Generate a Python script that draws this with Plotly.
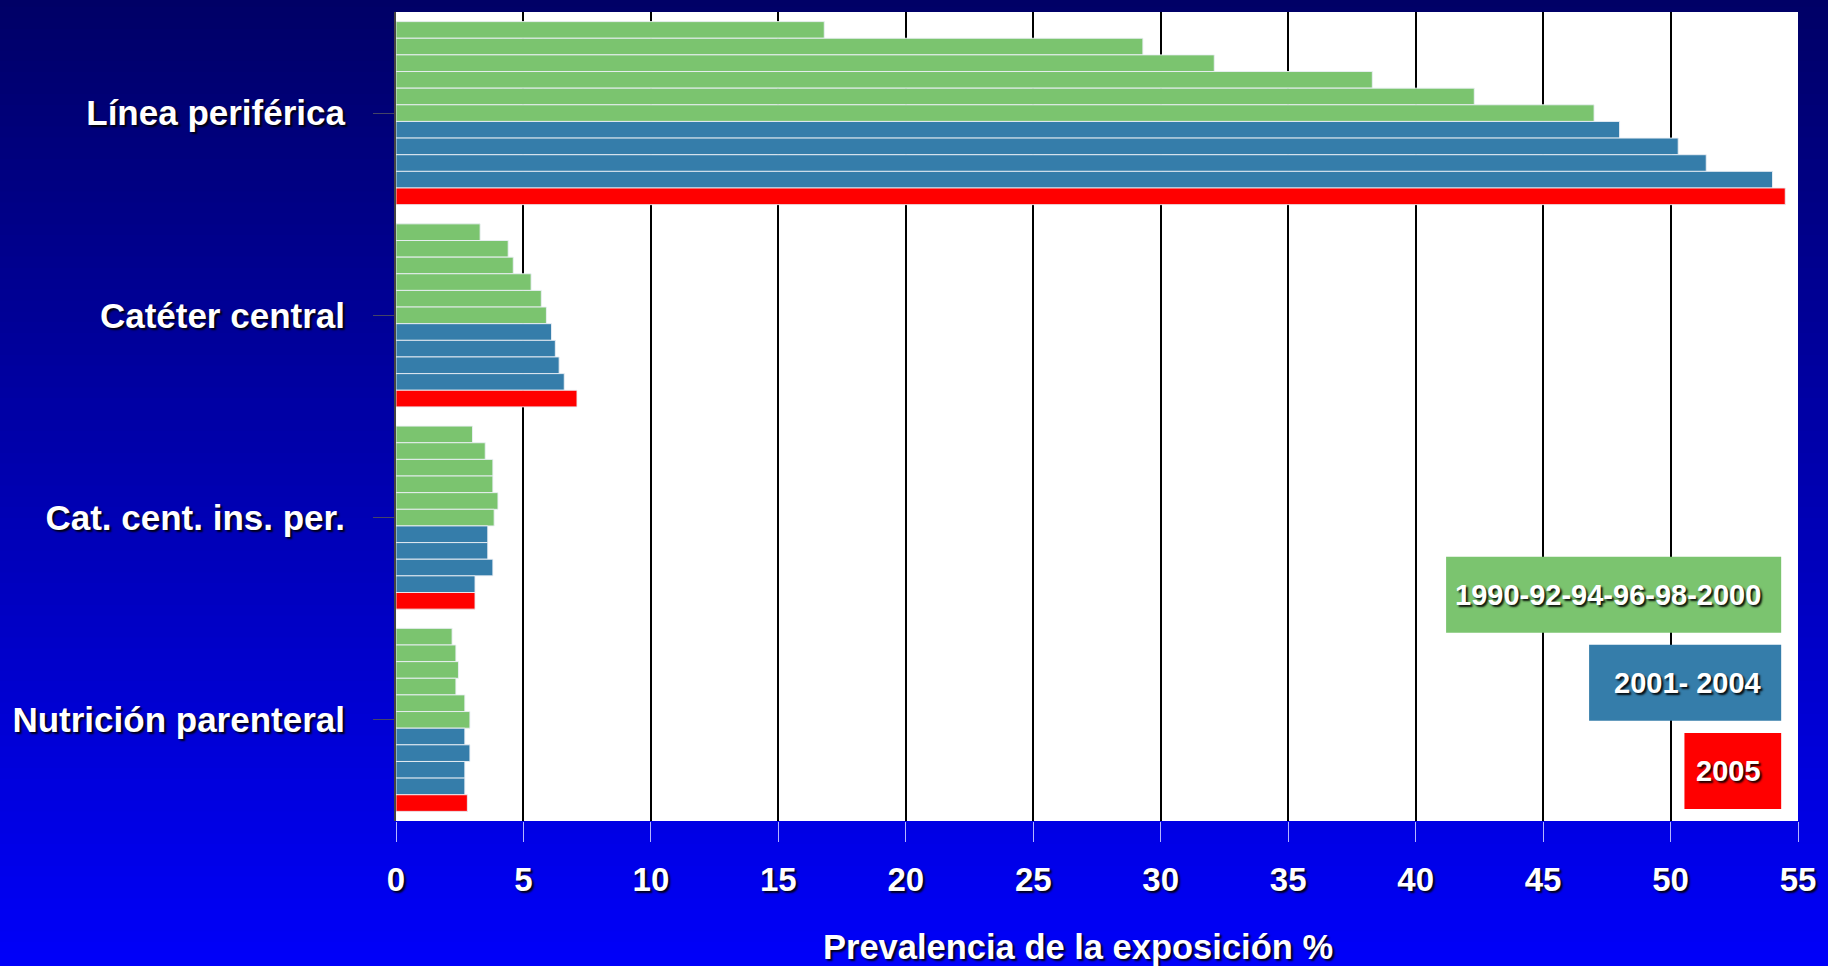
import plotly.graph_objects as go

# Categories (top to bottom) and survey years
categorias = ["Línea periférica", "Catéter central", "Cat. cent. ins. per.", "Nutrición parenteral"]
anios = ["1990", "1992", "1994", "1996", "1998", "2000", "2001", "2002", "2003", "2004", "2005"]

# Prevalence (%) per category, one value per year
linea_periferica = [16.8, 29.3, 32.1, 38.3, 42.3, 47.0, 48.0, 50.3, 51.4, 54.0, 54.5]
cateter_central = [3.3, 4.4, 4.6, 5.3, 5.7, 5.9, 6.1, 6.25, 6.4, 6.6, 7.1]
cat_cent_ins_per = [3.0, 3.5, 3.8, 3.8, 4.0, 3.85, 3.6, 3.6, 3.8, 3.1, 3.1]
nutricion_parenteral = [2.2, 2.35, 2.45, 2.35, 2.7, 2.9, 2.7, 2.9, 2.7, 2.7, 2.8]

periodos = ["1990-92-94-96-98-2000", "2001- 2004", "2005"]
x_ticks = [0, 5, 10, 15, 20, 25, 30, 35, 40, 45, 50, 55]

VERDE = "#7BC46F"
AZUL = "#357DAA"
ROJO = "#FF0000"


def color_for(year):
    y = int(year)
    if y <= 2000:
        return VERDE
    if y <= 2004:
        return AZUL
    return ROJO


series = [linea_periferica, cateter_central, cat_cent_ins_per, nutricion_parenteral]

fig = go.Figure()
for i, year in enumerate(anios):
    fig.add_trace(go.Bar(
        y=categorias,
        x=[s[i] for s in series],
        name=year,
        orientation="h",
        marker=dict(color=color_for(year), line=dict(color="rgba(235,240,245,0.9)", width=1)),
        showlegend=False,
    ))

shadow = "2px 2px 2px rgba(0,0,0,0.9)"
white_bold = dict(family="Liberation Sans, Arial, sans-serif", color="white", weight="bold", shadow=shadow)

# background gradient (dark navy at the top to bright blue at the bottom)
shapes = []
n = 90
y_bot, y_top = -0.19, 1.02
for k in range(n):
    t = k / (n - 1)
    b = int(round(250 - (250 - 102) * t))
    y0 = y_bot + (y_top - y_bot) * k / n
    y1 = y_bot + (y_top - y_bot) * (k + 1) / n + 0.002
    shapes.append(dict(type="rect", xref="paper", yref="paper", x0=-0.3, x1=1.05,
                       y0=y0, y1=y1, fillcolor=f"rgb(0,0,{b})", line=dict(width=0), layer="below"))
# white plot area
shapes.append(dict(type="rect", xref="paper", yref="paper", x0=0, x1=1, y0=0, y1=1,
                   fillcolor="white", line=dict(width=0), layer="below"))

# legend boxes
legend_boxes = [(0.749, 0.2327, 0.3267, VERDE), (0.851, 0.1238, 0.2178, AZUL), (0.919, 0.0149, 0.1089, ROJO)]
annotations = []
for (x0, y0, y1, col), label in zip(legend_boxes, periodos):
    shapes.append(dict(type="rect", xref="paper", yref="paper", x0=x0, x1=0.988, y0=y0, y1=y1,
                       fillcolor=col, line=dict(width=0), layer="above"))
    annotations.append(dict(xref="paper", yref="paper", x=0.975, y=(y0 + y1) / 2,
                            xanchor="right", yanchor="middle", text=label, showarrow=False,
                            font=dict(size=29, **white_bold)))

# x axis title
annotations.append(dict(xref="paper", yref="paper", x=0.4865, y=-0.156, xanchor="center", yanchor="middle",
                        text="Prevalencia de la exposición %", showarrow=False,
                        font=dict(size=34.5, **white_bold)))

fig.update_layout(
    width=1828,
    height=966,
    margin=dict(l=395, r=23, t=12, b=145),
    paper_bgcolor="#0000B0",
    plot_bgcolor="rgba(0,0,0,0)",
    barmode="group",
    bargap=0.095,
    bargroupgap=0,
    shapes=shapes,
    annotations=annotations,
    xaxis=dict(
        range=[0, 55],
        tickvals=x_ticks,
        showgrid=True,
        gridcolor="black",
        gridwidth=1.5,
        zeroline=False,
        ticks="outside",
        ticklen=20,
        tickcolor="#b4b4ff",
        tickwidth=1,
        ticklabelstandoff=9,
        tickfont=dict(size=33, **white_bold),
    ),
    yaxis=dict(
        autorange="reversed",
        showgrid=False,
        showline=True,
        linecolor="#444444",
        linewidth=2,
        ticks="outside",
        ticklen=21,
        tickcolor="#444466",
        ticklabelstandoff=21,
        tickfont=dict(size=35, **white_bold),
    ),
)

fig.write_html("out.html", config={"displayModeBar": False},
               post_script="document.body.style.margin='0';document.body.style.overflow='hidden';")
